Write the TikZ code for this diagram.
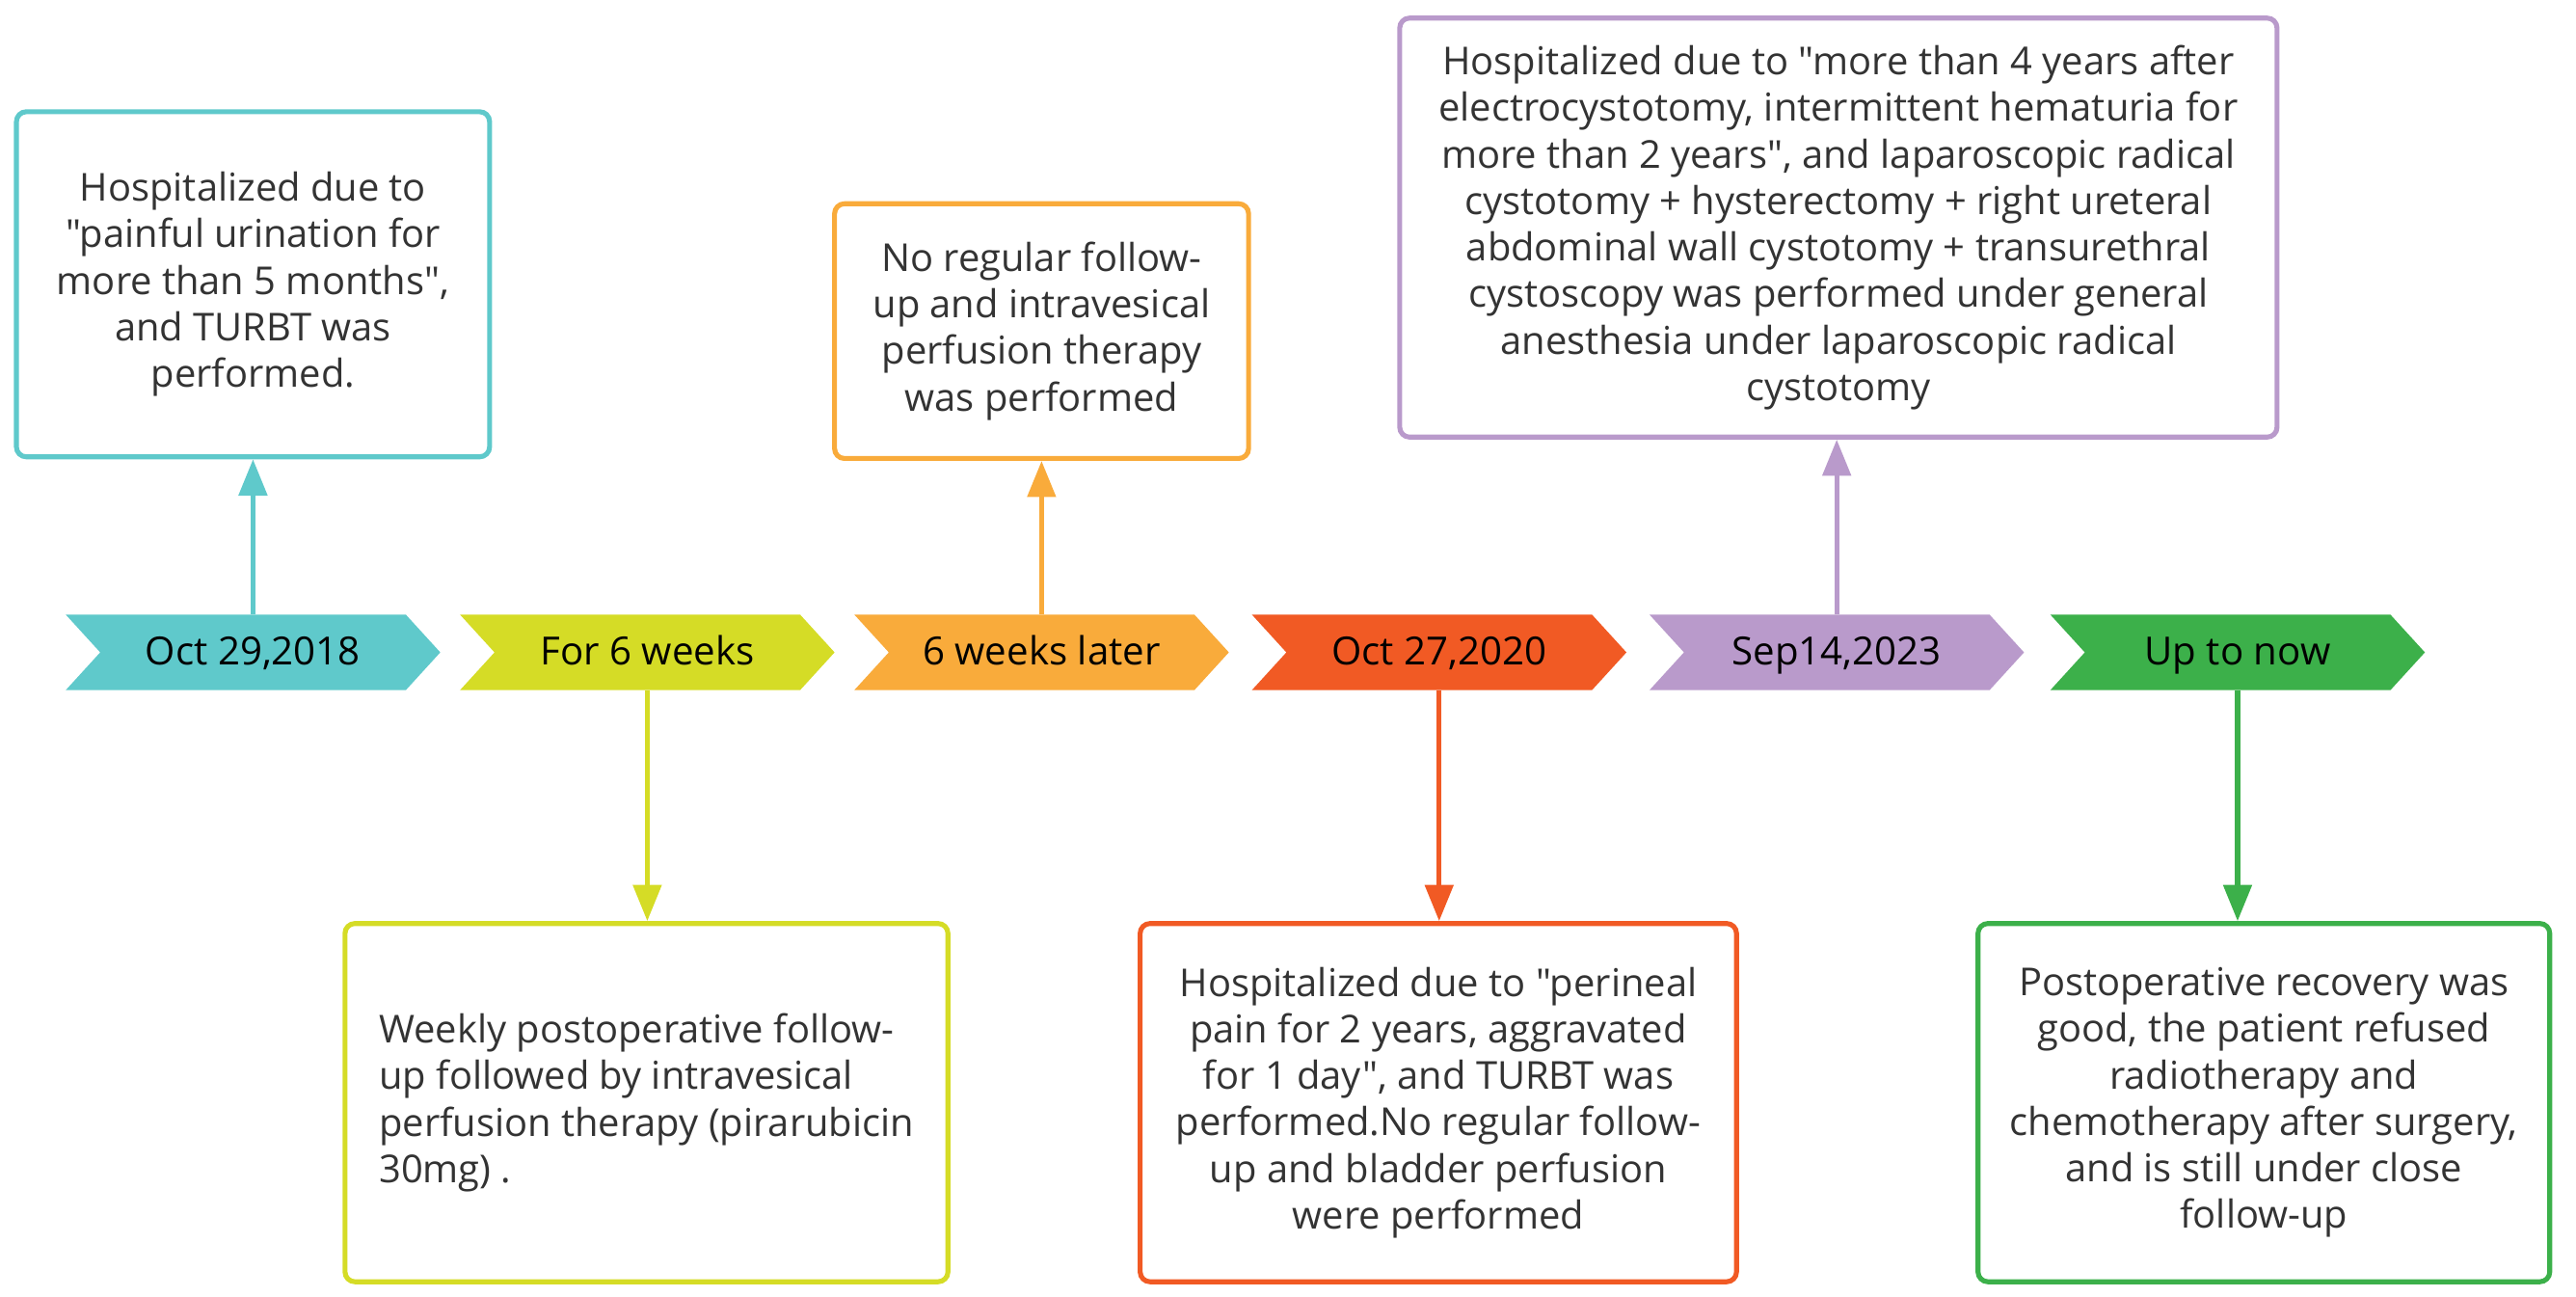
\documentclass[tikz,border=0pt]{standalone}
\usepackage{fontspec}
\setmainfont{Open Sans}[Ligatures=TeXOff]
\usetikzlibrary{arrows.meta}
\definecolor{cteal}{HTML}{5FC9CB}
\definecolor{cyel}{HTML}{D5DC26}
\definecolor{corange}{HTML}{F9AB3B}
\definecolor{cred}{HTML}{F15A24}
\definecolor{cpurple}{HTML}{B99ACB}
\definecolor{cgreen}{HTML}{3CB04A}
\definecolor{ctext}{HTML}{333333}
\tikzset{
  chev/.style={minimum width=228pt, minimum height=46pt, inner sep=0pt, text=black,
    font=\fontsize{23.6}{28}\selectfont, text height=17pt, text depth=2pt,
    path picture={\fill[#1] (path picture bounding box.north west)
      -- ([xshift=-21pt]path picture bounding box.north east)
      -- (path picture bounding box.east)
      -- ([xshift=-21pt]path picture bounding box.south east)
      -- (path picture bounding box.south west)
      -- ([xshift=21pt]path picture bounding box.west) -- cycle;}},
  evbox/.style={draw=#1, line width=3pt, rounded corners=6pt, fill=white,
    text=ctext, align=center, inner sep=0pt,
    font=\fontsize{23.4}{28.3}\selectfont},
  conn/.style={draw=#1, line width=3pt, -{Triangle[length=22pt,width=17pt]}}
}
\begin{document}
\begin{tikzpicture}[x=1pt,y=-1pt]
\useasboundingbox (0,0) rectangle (1568,789);
% chevrons
\node[chev=cteal]   (c1) at (154,397)  {Oct 29,2018};
\node[chev=cyel]    (c2) at (394,397)  {For 6 weeks};
\node[chev=corange] (c3) at (634,397)  {6 weeks later};
\node[chev=cred]    (c4) at (876,397)  {Oct 27,2020};
\node[chev=cpurple] (c5) at (1118,397) {Sep14,2023};
\node[chev=cgreen]  (c6) at (1362,397) {Up to now};
% boxes
\node[evbox=cteal, minimum width=288pt, minimum height=210pt] (b1) at (154,173)
  {Hospitalized due to\\"painful urination for\\more than 5 months",\\and TURBT was\\performed.};
\node[evbox=cyel, minimum width=367pt, minimum height=218pt, align=left] (b2) at (393.5,671)
  {Weekly postoperative follow-\\up followed by intravesical\\perfusion therapy (pirarubicin\\30mg) .};
\node[evbox=corange, minimum width=252pt, minimum height=155pt] (b3) at (634,201.5)
  {No regular follow-\\up and intravesical\\perfusion therapy\\was performed};
\node[evbox=cred, minimum width=363pt, minimum height=218pt] (b4) at (875.5,671)
  {Hospitalized due to "perineal\\pain for 2 years, aggravated\\for 1 day", and TURBT was\\performed.No regular follow-\\up and bladder perfusion\\were performed};
\node[evbox=cpurple, minimum width=534pt, minimum height=255pt] (b5) at (1119,138.5)
  {Hospitalized due to "more than 4 years after\\electrocystotomy, intermittent hematuria for\\more than 2 years", and laparoscopic radical\\cystotomy + hysterectomy + right ureteral\\abdominal wall cystotomy + transurethral\\cystoscopy was performed under general\\anesthesia under laparoscopic radical\\cystotomy};
\node[evbox=cgreen, minimum width=348pt, minimum height=218pt] (b6) at (1378,671)
  {Postoperative recovery was\\good, the patient refused\\radiotherapy and\\chemotherapy after surgery,\\and is still under close\\follow-up};
% connectors
\draw[conn=cteal]   (c1.north) -- (c1.north |- b1.south);
\draw[conn=cyel]    (c2.south) -- (c2.south |- b2.north);
\draw[conn=corange] (c3.north) -- (c3.north |- b3.south);
\draw[conn=cred]    (c4.south) -- (c4.south |- b4.north);
\draw[conn=cpurple] (c5.north) -- (c5.north |- b5.south);
\draw[conn=cgreen]  (c6.south) -- (c6.south |- b6.north);
\end{tikzpicture}
\end{document}
